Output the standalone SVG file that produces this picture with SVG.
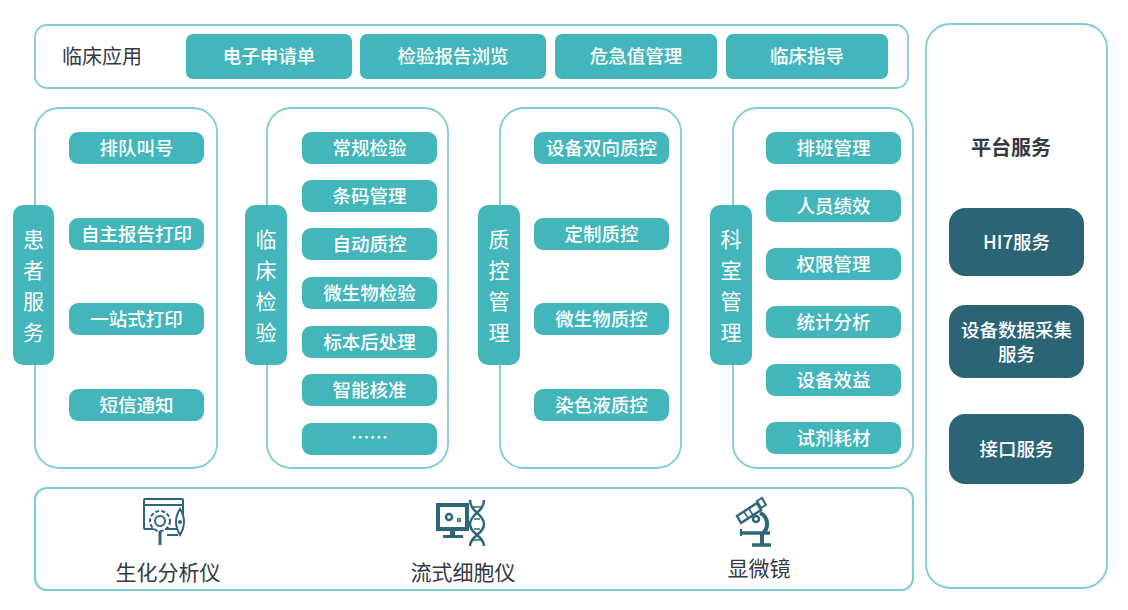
<svg xmlns="http://www.w3.org/2000/svg" width="1128" height="610" viewBox="0 0 1128 610">
<style>
  text { font-family: "Noto Sans CJK SC", "Noto Sans", sans-serif; font-weight: 500; }
  .frame { fill: #ffffff; stroke: #7fcdd2; stroke-width: 1.8; }
  .btn { fill: #43b6bc; }
  .btnt { fill: #ffffff; font-size: 18.5px; text-anchor: middle; dominant-baseline: central; }
  .tab { fill: #43b6bc; }
  .tabt { fill: #ffffff; font-size: 21px; font-weight: 400; text-anchor: middle; dominant-baseline: central; }
  .item { fill: #43b6bc; }
  .itemt { fill: #ffffff; font-size: 18.5px; text-anchor: middle; dominant-baseline: central; }
  .dark { fill: #2b6475; }
  .darkt { fill: #ffffff; font-size: 18.5px; text-anchor: middle; dominant-baseline: central; }
  .lbl { fill: #333a44; font-size: 21px; font-weight: 400; text-anchor: middle; dominant-baseline: central; }
  .ico { fill: none; stroke: #2e6878; stroke-width: 2; }
  .icof { fill: #2e6878; }
</style>
<rect width="1128" height="610" fill="#ffffff"/>

<g id="clinical-apps">
  <rect class="frame" x="35" y="25" width="873" height="63" rx="12"/>
  <text class="lbl" x="102" y="55" style="font-size:20px">临床应用</text>
  <rect class="btn" x="186" y="34" width="166" height="45" rx="7"/>
  <text class="btnt" x="269" y="55">电子申请单</text>
  <rect class="btn" x="360" y="34" width="186" height="45" rx="7"/>
  <text class="btnt" x="453" y="55">检验报告浏览</text>
  <rect class="btn" x="555" y="34" width="162" height="45" rx="7"/>
  <text class="btnt" x="636" y="55">危急值管理</text>
  <rect class="btn" x="726" y="34" width="162" height="45" rx="7"/>
  <text class="btnt" x="807" y="55">临床指导</text>
</g>

<g id="patient-service">
  <rect class="frame" x="35" y="108" width="182" height="360" rx="24"/>
  <rect class="tab" x="13" y="205" width="41" height="160" rx="10"/>
  <text class="tabt" x="33.5" y="238">患</text>
  <text class="tabt" x="33.5" y="269">者</text>
  <text class="tabt" x="33.5" y="300">服</text>
  <text class="tabt" x="33.5" y="331">务</text>
  <rect class="item" x="69" y="132" width="135" height="32" rx="9"/>
  <text class="itemt" x="136.5" y="147">排队叫号</text>
  <rect class="item" x="69" y="218" width="135" height="32" rx="9"/>
  <text class="itemt" x="136.5" y="233">自主报告打印</text>
  <rect class="item" x="69" y="303" width="135" height="32" rx="9"/>
  <text class="itemt" x="136.5" y="318">一站式打印</text>
  <rect class="item" x="69" y="389" width="135" height="32" rx="9"/>
  <text class="itemt" x="136.5" y="404">短信通知</text>
</g>

<g id="clinical-test">
  <rect class="frame" x="267" y="108" width="181" height="360" rx="24"/>
  <rect class="tab" x="245" y="205" width="42" height="160" rx="10"/>
  <text class="tabt" x="266" y="238">临</text>
  <text class="tabt" x="266" y="269">床</text>
  <text class="tabt" x="266" y="300">检</text>
  <text class="tabt" x="266" y="331">验</text>
  <rect class="item" x="302" y="132" width="135" height="32" rx="9"/>
  <text class="itemt" x="369.5" y="147">常规检验</text>
  <rect class="item" x="302" y="180" width="135" height="32" rx="9"/>
  <text class="itemt" x="369.5" y="195">条码管理</text>
  <rect class="item" x="302" y="228" width="135" height="32" rx="9"/>
  <text class="itemt" x="369.5" y="243">自动质控</text>
  <rect class="item" x="302" y="277" width="135" height="32" rx="9"/>
  <text class="itemt" x="369.5" y="292">微生物检验</text>
  <rect class="item" x="302" y="326" width="135" height="32" rx="9"/>
  <text class="itemt" x="369.5" y="341">标本后处理</text>
  <rect class="item" x="302" y="374" width="135" height="32" rx="9"/>
  <text class="itemt" x="369.5" y="389">智能核准</text>
  <rect class="item" x="302" y="423" width="135" height="32" rx="9"/>
  <text class="itemt" x="369.5" y="436">……</text>
</g>

<g id="quality-control">
  <rect class="frame" x="500" y="108" width="181" height="360" rx="24"/>
  <rect class="tab" x="478" y="205" width="42" height="160" rx="10"/>
  <text class="tabt" x="499" y="238">质</text>
  <text class="tabt" x="499" y="269">控</text>
  <text class="tabt" x="499" y="300">管</text>
  <text class="tabt" x="499" y="331">理</text>
  <rect class="item" x="534" y="132" width="135" height="32" rx="9"/>
  <text class="itemt" x="601.5" y="147">设备双向质控</text>
  <rect class="item" x="534" y="218" width="135" height="32" rx="9"/>
  <text class="itemt" x="601.5" y="233">定制质控</text>
  <rect class="item" x="534" y="303" width="135" height="32" rx="9"/>
  <text class="itemt" x="601.5" y="318">微生物质控</text>
  <rect class="item" x="534" y="389" width="135" height="32" rx="9"/>
  <text class="itemt" x="601.5" y="404">染色液质控</text>
</g>

<g id="dept-management">
  <rect class="frame" x="733" y="108" width="180" height="360" rx="24"/>
  <rect class="tab" x="710" y="205" width="42" height="160" rx="10"/>
  <text class="tabt" x="731" y="238">科</text>
  <text class="tabt" x="731" y="269">室</text>
  <text class="tabt" x="731" y="300">管</text>
  <text class="tabt" x="731" y="331">理</text>
  <rect class="item" x="766" y="132" width="135" height="32" rx="9"/>
  <text class="itemt" x="833.5" y="147">排班管理</text>
  <rect class="item" x="766" y="190" width="135" height="32" rx="9"/>
  <text class="itemt" x="833.5" y="205">人员绩效</text>
  <rect class="item" x="766" y="248" width="135" height="32" rx="9"/>
  <text class="itemt" x="833.5" y="263">权限管理</text>
  <rect class="item" x="766" y="306" width="135" height="32" rx="9"/>
  <text class="itemt" x="833.5" y="321">统计分析</text>
  <rect class="item" x="766" y="364" width="135" height="32" rx="9"/>
  <text class="itemt" x="833.5" y="379">设备效益</text>
  <rect class="item" x="766" y="422" width="135" height="32" rx="9"/>
  <text class="itemt" x="833.5" y="437">试剂耗材</text>
</g>

<g id="platform-service">
  <rect class="frame" x="926" y="24" width="181" height="564" rx="24"/>
  <text class="lbl" x="1011" y="146" style="font-size:20px;font-weight:700">平台服务</text>
  <rect class="dark" x="949" y="208" width="135" height="68" rx="16"/>
  <text class="darkt" x="1016.5" y="241">HI7服务</text>
  <rect class="dark" x="949" y="305" width="135" height="73" rx="16"/>
  <text class="darkt" x="1016.5" y="329">设备数据采集</text>
  <text class="darkt" x="1016.5" y="353">服务</text>
  <rect class="dark" x="949" y="414" width="135" height="70" rx="16"/>
  <text class="darkt" x="1016.5" y="448">接口服务</text>
</g>

<g id="devices">
  <rect class="frame" x="35" y="488" width="878" height="102" rx="12" style="stroke-width:2.2"/>
  <g id="icon-biochem">
    <rect class="ico" x="144" y="499" width="39" height="30" rx="1"/>
    <line class="ico" x1="144" y1="505" x2="183" y2="505"/>
    <circle class="ico" cx="160" cy="521" r="10" stroke-dasharray="4 2" style="fill:#ffffff"/>
    <circle class="ico" cx="160" cy="521" r="5"/>
    <line class="ico" x1="160" y1="531" x2="160" y2="545" style="stroke-width:3"/>
    <path class="ico" d="M180 509 Q188 521 180 535 Q172 521 180 509 Z" style="fill:#ffffff"/>
    <circle class="icof" cx="180" cy="522" r="2"/>
    <line class="ico" x1="167" y1="535" x2="178" y2="535"/>
  </g>
  <text class="lbl" x="168" y="571">生化分析仪</text>
  <g id="icon-flow">
    <rect class="ico" x="438" y="505" width="29" height="24" style="stroke-width:4"/>
    <rect class="icof" x="450" y="529" width="5" height="6"/>
    <rect class="icof" x="443" y="535" width="20" height="3"/>
    <circle class="ico" cx="449" cy="517" r="3" style="stroke-width:2.5"/>
    <circle class="ico" cx="459" cy="520" r="1.5" style="stroke-width:1.5"/>
    <path class="ico" d="M470 500 C470 512 484 514 484 524 C484 534 470 536 470 546" style="stroke-width:2.5"/>
    <path class="ico" d="M484 500 C484 512 470 514 470 524 C470 534 484 536 484 546" style="stroke-width:2.5"/>
    <line class="ico" x1="472" y1="507" x2="482" y2="507" style="stroke-width:1.5"/>
    <line class="ico" x1="474" y1="519" x2="480" y2="519" style="stroke-width:1.5"/>
    <line class="ico" x1="474" y1="529" x2="480" y2="529" style="stroke-width:1.5"/>
    <line class="ico" x1="472" y1="540" x2="482" y2="540" style="stroke-width:1.5"/>
  </g>
  <text class="lbl" x="463" y="571">流式细胞仪</text>
  <g id="icon-microscope">
    <path class="ico" d="M737 516 L757 503 L761 510 L741 523 Z" style="stroke-width:2.5"/>
    <path class="ico" d="M757 501 L762 498 L766 505 L761 508 Z" style="stroke-width:2"/>
    <line class="ico" x1="744" y1="512" x2="748" y2="518" style="stroke-width:1.5"/>
    <line class="ico" x1="749" y1="509" x2="753" y2="515" style="stroke-width:1.5"/>
    <circle class="ico" cx="756" cy="519" r="3" style="stroke-width:2.5"/>
    <path class="ico" d="M760 513 A12 12 0 0 1 763 533" style="stroke-width:4"/>
    <line class="ico" x1="740" y1="533" x2="770" y2="533" style="stroke-width:3.5"/>
    <line class="ico" x1="741" y1="529" x2="741" y2="536" style="stroke-width:2"/>
    <line class="ico" x1="762" y1="533" x2="762" y2="544" style="stroke-width:4"/>
    <line class="ico" x1="752" y1="545" x2="771" y2="545" style="stroke-width:3.5"/>
  </g>
  <text class="lbl" x="759" y="567">显微镜</text>
</g>

<g id="connectors"></g>
</svg>
